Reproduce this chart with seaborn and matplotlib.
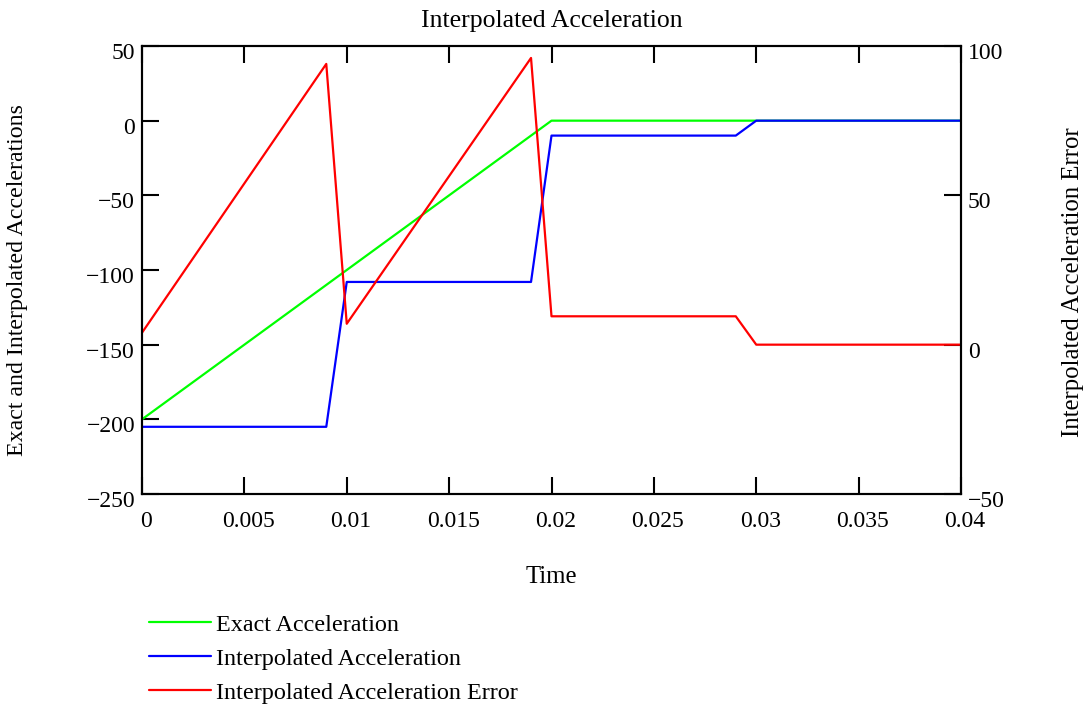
import numpy as np
import pandas as pd
import matplotlib
matplotlib.use('Agg')
import matplotlib.pyplot as plt
import matplotlib.transforms as mtransforms
import seaborn as sns

# --- data ---
time = [0.0, 0.009, 0.010, 0.019, 0.020, 0.029, 0.030, 0.040]
exact_acc = [-200, -110, -100, -10, 0, 0, 0, 0]
interp_acc = [-205, -205, -108, -108, -10, -10, 0, 0]
interp_err = [4, 94, 7, 96, 9.5, 9.5, 0, 0]

x_ticks = [0, 0.005, 0.01, 0.015, 0.02, 0.025, 0.03, 0.035, 0.04]
x_ticklabels = ['0', '0.005', '0.01', '0.015', '0.02', '0.025', '0.03', '0.035', '0.04']
left_ticks = [-250, -200, -150, -100, -50, 0, 50]
right_ticks = [-50, 0, 50, 100]

df = pd.DataFrame({'Time': time, 'exact': exact_acc, 'interp': interp_acc, 'err': interp_err})

sns.set_theme(style='white')
plt.rcParams['font.family'] = ['Liberation Serif', 'DejaVu Serif']
plt.rcParams['axes.unicode_minus'] = True
plt.rcParams['text.color'] = 'black'
plt.rcParams['axes.labelcolor'] = 'black'
tick_fs = 17
title_fs = 18.5
leg_fs = 17.4

# axes box in pixels: left 142, right 961, top 46, bottom 494
L, R, T, B = 142, 961, 46, 494
W, H = 1085, 706

fig = plt.figure(figsize=(W / 100, H / 100), dpi=100)
ax = fig.add_axes([L / W, 1 - B / H, (R - L) / W, (B - T) / H])
ax2 = ax.twinx()

sns.lineplot(data=df, x='Time', y='exact', ax=ax, color='#00ff00', lw=1.6, label='Exact Acceleration', legend=False)
sns.lineplot(data=df, x='Time', y='interp', ax=ax, color='#0000ff', lw=1.6, label='Interpolated Acceleration', legend=False)
sns.lineplot(data=df, x='Time', y='err', ax=ax2, color='#ff0000', lw=1.6, label='Interpolated Acceleration Error', legend=False)

ax.set_xlim(0, 0.04)
ax.set_ylim(-250, 50)
ax2.set_ylim(-50, 100)
ax.set_xticks(x_ticks)
ax.set_xticklabels(x_ticklabels)
ax.set_yticks(left_ticks)
ax2.set_yticks(right_ticks)

for a in (ax, ax2):
    for s in a.spines.values():
        s.set_color('black')
        s.set_linewidth(1.5)
        s.set_visible(True)

ax.tick_params(axis='x', which='both', direction='in', top=True, bottom=True, length=12, width=1.5,
               labelsize=tick_fs, pad=12.5, colors='black')
ax.tick_params(axis='y', direction='in', left=True, right=False, length=12, width=1.5,
               labelsize=tick_fs, pad=5, colors='black')
ax2.tick_params(axis='y', direction='in', right=True, left=False, length=12, width=1.5,
                labelsize=tick_fs, pad=5, colors='black')

# the reference labels sit slightly right of / below their ticks
shift_x = mtransforms.ScaledTranslation(4 / 100, 0, fig.dpi_scale_trans)
shift_y = mtransforms.ScaledTranslation(0, -5 / 100, fig.dpi_scale_trans)
for lab in ax.get_xticklabels():
    lab.set_transform(lab.get_transform() + shift_x)
for lab in ax.get_yticklabels() + ax2.get_yticklabels():
    lab.set_transform(lab.get_transform() + shift_y)

ax.set_title('Interpolated Acceleration', fontsize=title_fs, pad=14)
ax.set_xlabel('Time', fontsize=17.8)
ax.set_ylabel('Exact and Interpolated Accelerations', fontsize=17.2)
ax2.set_ylabel('Interpolated Acceleration Error', fontsize=17.8)
ax.xaxis.set_label_coords(0.5, (B - 577) / (B - T))
ax.xaxis.label.set_va('center')
ax.yaxis.set_label_coords((18 - L) / (R - L), (B - 280) / (B - T))
ax.yaxis.label.set_va('center')
ax2.yaxis.set_label_coords((1073 - L) / (R - L), (B - 282) / (B - T))
ax2.yaxis.label.set_va('center')

handles = ax.get_lines() + ax2.get_lines()
fig.legend(handles, [h.get_label() for h in handles], loc='upper left',
           bbox_to_anchor=(139 / W, 1 - 604 / H), frameon=False, fontsize=leg_fs,
           handlelength=2.6, handletextpad=0.2, labelspacing=0.5, borderaxespad=0)

fig.savefig('out.png', dpi=100)
